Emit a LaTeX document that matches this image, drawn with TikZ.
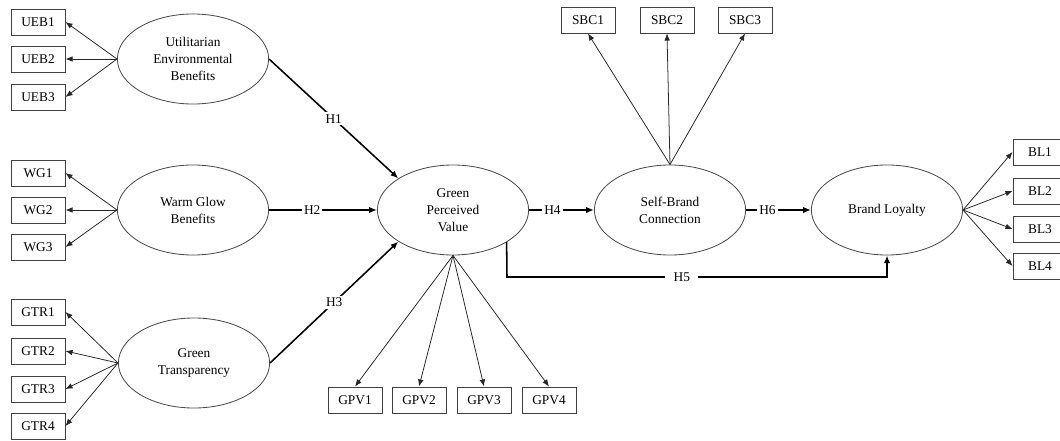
\documentclass[tikz,border=0pt]{standalone}
\usepackage{fontspec}
\setmainfont{Liberation Serif}
\usepackage{tikz}
\usetikzlibrary{arrows.meta}
\usetikzlibrary{shapes.geometric}
\tikzset{
  latentE/.style={ellipse, draw=black!70, line width=0.6pt, minimum width=3.78cm,
                  minimum height=2.25cm, inner sep=0pt, align=center},
  indB/.style={rectangle, draw=black!75, line width=0.7pt, minimum width=1.35cm,
               minimum height=0.65cm, inner sep=0pt},
  loadA/.style={-{Latex[length=5pt,width=4pt]}, black!85, line width=0.55pt},
  pathA/.style={-{Latex[length=5.5pt,width=4.5pt]}, black, line width=1.1pt},
  hypL/.style={fill=white, inner sep=1.5pt}}

\begin{document}
\begin{tikzpicture}[x=0.025cm, y=-0.025cm, font=\fontsize{9.5}{12}\selectfont]
  \useasboundingbox (0,0) rectangle (1060,441);
  % latent constructs
  \node[latentE] (ueb) at (193,59)  {Utilitarian\\Environmental\\Benefits};
  \node[latentE] (wg)  at (193,210) {Warm Glow\\Benefits};
  \node[latentE] (gtr) at (194,363) {Green\\Transparency};
  \node[latentE] (gpv) at (453,210) {Green\\Perceived\\Value};
  \node[latentE] (sbc) at (670,210) {Self-Brand\\Connection};
  \node[latentE] (bl)  at (887,210) {Brand Loyalty};
  % indicators on the left
  \foreach \i/\y in {1/22, 2/59, 3/97}{
    \node[indB] (ueb\i) at (38,\y) {UEB\i};
    \draw[loadA] (ueb.west) -- (ueb\i.east);}
  \foreach \i/\y in {1/173, 2/210, 3/247}{
    \node[indB] (wg\i) at (38,\y) {WG\i};
    \draw[loadA] (wg.west) -- (wg\i.east);}
  \foreach \i/\y in {1/312, 2/351, 3/389, 4/426}{
    \node[indB] (gtr\i) at (38,\y) {GTR\i};
    \draw[loadA] (gtr.west) -- (gtr\i.east);}
  % indicators of green perceived value
  \foreach \i/\x in {1/355, 2/419, 3/484, 4/549}{
    \node[indB] (gpv\i) at (\x,400) {GPV\i};
    \draw[loadA] (gpv.south) -- (gpv\i.north);}
  % indicators of self-brand connection
  \foreach \i/\x in {1/588, 2/667, 3/745}{
    \node[indB] (sbc\i) at (\x,20) {SBC\i};
    \draw[loadA] (sbc.north) -- (sbc\i.south);}
  % indicators of brand loyalty (cut at the right edge)
  \foreach \i/\y in {1/152, 2/191, 3/229, 4/266}{
    \node[indB] (bl\i) at (1040,\y) {BL\i};
    \draw[loadA] (bl.east) -- (bl\i.west);}
  % hypotheses
  \draw[pathA] (ueb.east) -- node[hypL] {H1} (gpv.150);
  \draw[pathA] (wg.east) -- node[hypL, pos=0.4] {H2} (gpv.west);
  \draw[pathA] (gtr.east) -- node[hypL] {H3} (gpv.210);
  \draw[pathA] (gpv.east) -- node[hypL, pos=0.36] {H4} (sbc.west);
  \coordinate (h5turn) at (507,277);
  \draw[pathA] (gpv.-31) -- (h5turn) -| node[hypL, pos=0.23, inner xsep=6pt] {H5} (bl.south);
  \draw[pathA] (sbc.east) -- node[hypL, pos=0.33] {H6} (bl.west);
\end{tikzpicture}
\end{document}
